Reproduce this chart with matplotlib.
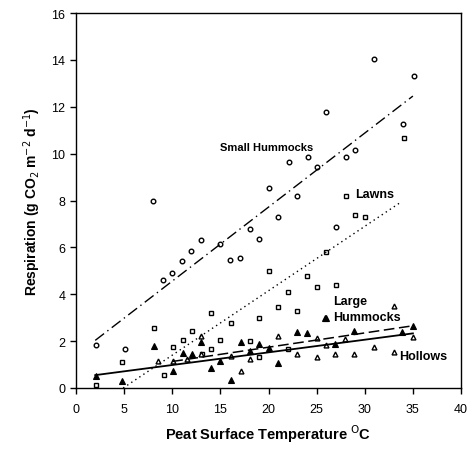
import numpy as np
import matplotlib.pyplot as plt

plt.rcParams['font.family'] = ['Liberation Sans', 'DejaVu Sans']

# small hummocks (open circles)
sh_x = [2.1, 5.1, 8.0, 9.0, 10.0, 11.0, 12.0, 13.0, 15.0, 16.0, 17.0, 18.1, 19.0,
        20.0, 21.0, 22.1, 23.0, 24.1, 25.0, 26.0, 27.0, 28.0, 29.0, 31.0, 34.0, 35.1]
sh_y = [1.85, 1.65, 8.0, 4.6, 4.9, 5.4, 5.85, 6.3, 6.15, 5.45, 5.55, 6.78, 6.36,
        8.52, 7.28, 9.66, 8.2, 9.87, 9.44, 11.8, 6.85, 9.87, 10.15, 14.05, 11.26, 13.3]

# lawns (open squares)
lw_x = [2.1, 4.8, 8.1, 9.1, 10.05, 11.1, 12.05, 13.05, 14.0, 14.0, 15.0, 16.1, 18.1,
        19.0, 19.0, 20.05, 21.0, 22.05, 22.05, 23.0, 24.0, 25.0, 26.0, 27.0, 28.0,
        29.0, 30.0, 34.1]
lw_y = [0.12, 1.12, 2.55, 0.55, 1.74, 2.06, 2.45, 1.45, 3.2, 1.66, 2.06, 2.76, 2.02,
        2.97, 1.34, 5.0, 3.47, 4.08, 1.66, 3.27, 4.8, 4.3, 5.82, 4.39, 8.2,
        7.38, 7.28, 10.65]

# large hummocks (filled triangles)
lh_x = [2.1, 4.8, 8.1, 10.05, 11.1, 12.05, 13.0, 14.0, 15.0, 16.1, 17.1, 18.1, 19.0,
        20.05, 21.0, 23.0, 24.0, 25.9, 26.0, 26.9, 28.9, 33.9, 35.0]
lh_y = [0.53, 0.31, 1.78, 0.74, 1.49, 1.45, 1.98, 0.84, 1.17, 0.34, 1.98, 1.57, 1.88,
        1.69, 1.05, 2.37, 2.33, 2.97, 3.0, 1.88, 2.45, 2.37, 2.66]

# hollows (open triangles)
ho_x = [8.55, 10.05, 11.5, 13.0, 13.0, 16.1, 17.1, 18.1, 21.0, 23.0, 25.0, 25.0,
        26.0, 26.9, 27.95, 28.9, 31.0, 33.0, 33.0, 35.0]
ho_y = [1.17, 1.17, 1.24, 1.45, 2.23, 1.38, 0.74, 1.24, 2.23, 1.45, 1.34, 2.12,
        1.85, 1.45, 2.09, 1.45, 1.74, 3.48, 1.52, 2.16]

# regression lines: (slope, intercept, x start, x end)
sh_fit = (0.316, 1.40, 2.0, 35.0)
lw_fit = (0.275, -1.35, 4.9, 33.8)
lh_fit = (0.061, 0.52, 10.0, 35.0)
ho_fit = (0.054, 0.44, 2.0, 35.0)

fig = plt.figure(figsize=(4.69, 4.56), dpi=100)
ax = fig.add_axes([0.162, 0.147, 0.821, 0.822])

ax.plot(sh_x, sh_y, 'o', ms=3.3, mfc='white', mec='black', mew=1.0, ls='none')
ax.plot(lw_x, lw_y, 's', ms=3.2, mfc='white', mec='black', mew=1.0, ls='none')
ax.plot(lh_x, lh_y, '^', ms=3.8, mfc='black', mec='black', mew=0.8, ls='none')
ax.plot(ho_x, ho_y, '^', ms=3.5, mfc='white', mec='black', mew=1.0, ls='none')

def fit_line(fit, **kw):
    m, b, x0, x1 = fit
    xs = np.array([x0, x1])
    ax.plot(xs, m * xs + b, color='black', **kw)

fit_line(sh_fit, lw=1.0, ls=(0, (8, 3, 1, 3)))
fit_line(lw_fit, lw=1.0, ls=(0, (1, 2.5)))
fit_line(lh_fit, lw=1.1, ls=(0, (7, 3)))
fit_line(ho_fit, lw=1.3, ls='-')

ax.text(15.0, 10.28, 'Small Hummocks', fontsize=8, fontweight='bold', va='center')
ax.text(29.0, 8.3, 'Lawns', fontsize=9, fontweight='bold', va='center')
ax.text(26.7, 3.72, 'Large', fontsize=9, fontweight='bold', va='center')
ax.text(26.7, 3.02, 'Hummocks', fontsize=9, fontweight='bold', va='center')
ax.text(33.6, 1.35, 'Hollows', fontsize=9, fontweight='bold', va='center')

ax.set_xlim(0, 40)
ax.set_ylim(0, 16)
ax.set_xticks(np.arange(0, 41, 5))
ax.set_yticks(np.arange(0, 17, 2))
ax.tick_params(direction='out', length=4, width=1, labelsize=9)
ax.tick_params(axis='x', pad=7)
for s in ax.spines.values():
    s.set_linewidth(1.0)

ax.set_xlabel('Peat Surface Temperature $^{\\mathrm{O}}$C', fontsize=10.5,
              fontweight='bold', labelpad=5)
ax.set_ylabel('Respiration (g CO$_2$ m$^{-2}$ d$^{-1}$)', fontsize=10,
              fontweight='bold', labelpad=6)

fig.savefig('out.png', dpi=100)
